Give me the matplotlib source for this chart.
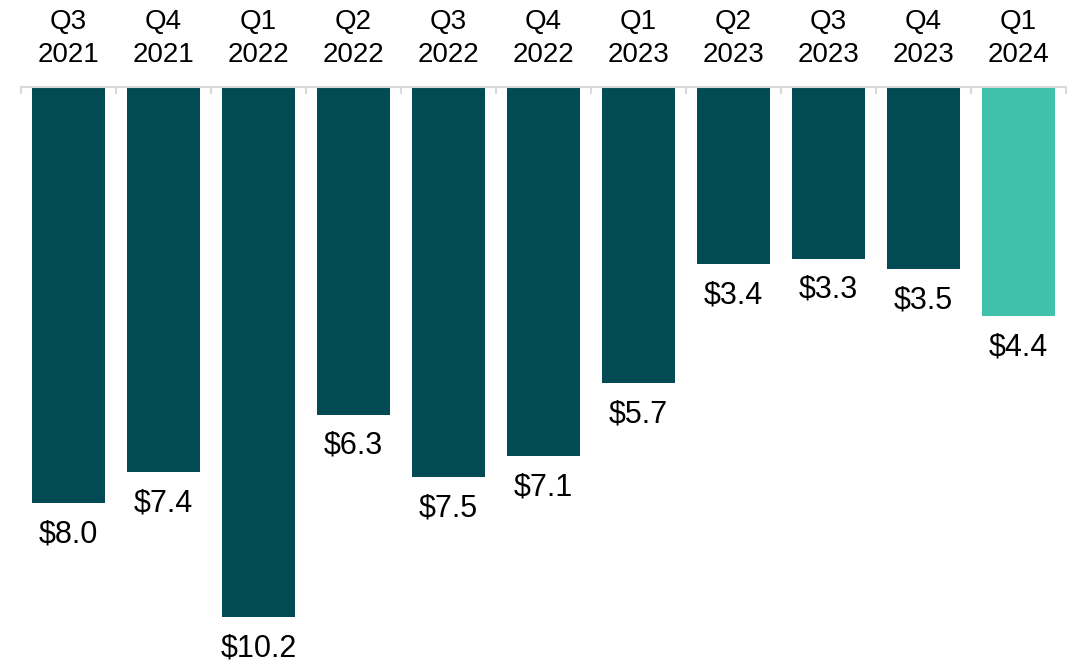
import matplotlib.pyplot as plt
import numpy as np

plt.rcParams['font.family'] = ['Liberation Sans', 'DejaVu Sans']

quarters = ["Q3\n2021", "Q4\n2021", "Q1\n2022", "Q2\n2022", "Q3\n2022", "Q4\n2022",
            "Q1\n2023", "Q2\n2023", "Q3\n2023", "Q4\n2023", "Q1\n2024"]
values = [8.0, 7.4, 10.2, 6.3, 7.5, 7.1, 5.7, 3.4, 3.3, 3.5, 4.4]

DARK = "#024B55"
LIGHT = "#40C1AC"
colors = [DARK] * (len(values) - 1) + [LIGHT]

fig = plt.figure(figsize=(10.73, 6.62), dpi=100)
ax = fig.add_axes([21 / 1073, 0, 1045 / 1073, 575 / 662])

x = np.arange(len(values))
# bars hang down from the top axis
ax.bar(x, [-v for v in values], width=0.76, color=colors, zorder=2)

for xi, v in zip(x, values):
    ax.annotate(f"${v:.1f}", (xi, -v), xytext=(0, -22.5), textcoords="offset points",
                ha="center", va="center", fontsize=22, color="black",
                annotation_clip=False)

ax.set_xlim(-0.5, len(values) - 0.5)
ax.set_ylim(-575 / 52, 0)

ax.xaxis.tick_top()
ax.set_xticks(x)
ax.set_xticklabels(quarters, fontsize=20, linespacing=1.35)
ax.set_xticks(np.arange(-0.5, len(values)), minor=True)
ax.tick_params(axis="x", which="major", length=0, pad=14)
ax.tick_params(axis="x", which="minor", length=5, width=1.5, direction="in",
               color="#D9D9D9", top=True, bottom=False)
ax.set_yticks([])

for side in ["bottom", "left", "right"]:
    ax.spines[side].set_visible(False)
ax.spines["top"].set_color("#D9D9D9")
ax.spines["top"].set_linewidth(1.5)

fig.savefig("out.png", dpi=100)
